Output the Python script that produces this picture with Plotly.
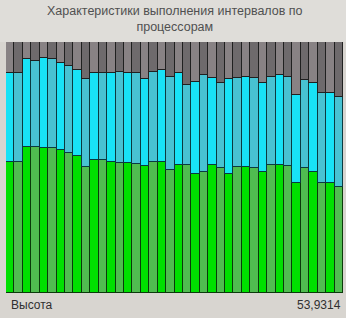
import plotly.graph_objects as go

processors = [str(i) for i in range(1, 41)]
green = [52.2, 52.2, 58.2, 58.2, 57.8, 57.8, 57.0, 55.8, 54.6, 50.2,
         53.0, 53.0, 52.2, 51.8, 51.8, 51.4, 50.6, 52.2, 52.2, 49.0,
         51.0, 51.0, 47.4, 48.2, 51.0, 49.8, 47.4, 50.2, 50.2, 49.8,
         48.2, 51.0, 51.0, 50.6, 43.8, 49.8, 48.2, 43.8, 43.8, 42.2]
cyan = [35.4, 35.4, 35.0, 34.2, 35.8, 35.4, 34.6, 34.6, 34.2, 35.1,
        34.6, 34.6, 35.4, 36.2, 35.8, 36.2, 34.7, 35.8, 36.6, 37.1,
        36.6, 31.9, 36.7, 38.7, 34.7, 33.9, 37.9, 35.5, 35.9, 35.9,
        35.5, 35.1, 35.9, 35.5, 35.1, 35.1, 35.5, 35.9, 35.9, 35.9]
gray = [12.4, 12.4, 6.8, 7.6, 6.4, 6.8, 8.4, 9.6, 11.2, 14.7,
        12.4, 12.4, 12.4, 12.0, 12.4, 12.4, 14.7, 12.0, 11.2, 13.9,
        12.4, 17.1, 15.9, 13.1, 14.3, 16.3, 14.7, 14.3, 13.9, 14.3,
        16.3, 13.9, 13.1, 13.9, 21.1, 15.1, 16.3, 20.3, 20.3, 21.9]

title_text = "Характеристики выполнения интервалов по<br>процессорам"
bottom_left = "Высота"
bottom_right = "53,9314"

def alt(a, b, n):
    return [a if i % 2 == 0 else b for i in range(n)]

n = len(processors)
fig = go.Figure()
fig.add_bar(x=processors, y=green, marker=dict(color=alt("#00e000", "#50bc50", n),
            line=dict(color="#0a3a0a", width=1)))
fig.add_bar(x=processors, y=cyan, marker=dict(color=alt("#18e2f6", "#48c2d2", n),
            line=dict(color="#0a3a40", width=1)))
fig.add_bar(x=processors, y=gray, marker=dict(color=alt("#888284", "#6e6a6c", n),
            line=dict(color="#202020", width=1)))

fig.update_layout(
    width=346, height=318,
    barmode="stack", bargap=0,
    showlegend=False,
    paper_bgcolor="#d8d5d0", plot_bgcolor="#d8d5d0",
    margin=dict(l=6, r=3, t=42, b=25),
    xaxis=dict(visible=False),
    yaxis=dict(visible=False, range=[0, 100]),
    font=dict(family="Liberation Sans, Arial, sans-serif"),
)
fig.add_shape(type="rect", xref="paper", yref="paper", x0=-0.02, x1=1.01,
              y0=1.0, y1=1.17, fillcolor="#dfddd9", line=dict(width=0), layer="below")
fig.add_annotation(text=title_text, xref="paper", yref="paper", x=0.5, y=1.16,
                   xanchor="center", yanchor="top", showarrow=False,
                   font=dict(size=12.5, color="#505050"))
fig.add_annotation(text=bottom_left, xref="paper", yref="paper", x=0.01, y=-0.048,
                   xanchor="left", yanchor="middle", showarrow=False,
                   font=dict(size=12, color="#303030"))
fig.add_annotation(text=bottom_right, xref="paper", yref="paper", x=1.0, y=-0.048,
                   xanchor="right", yanchor="middle", showarrow=False,
                   font=dict(size=12, color="#303030"))

fig.write_html("out.html", config={"displayModeBar": False},
               post_script="document.body.style.margin='0';document.body.style.overflow='hidden';")
